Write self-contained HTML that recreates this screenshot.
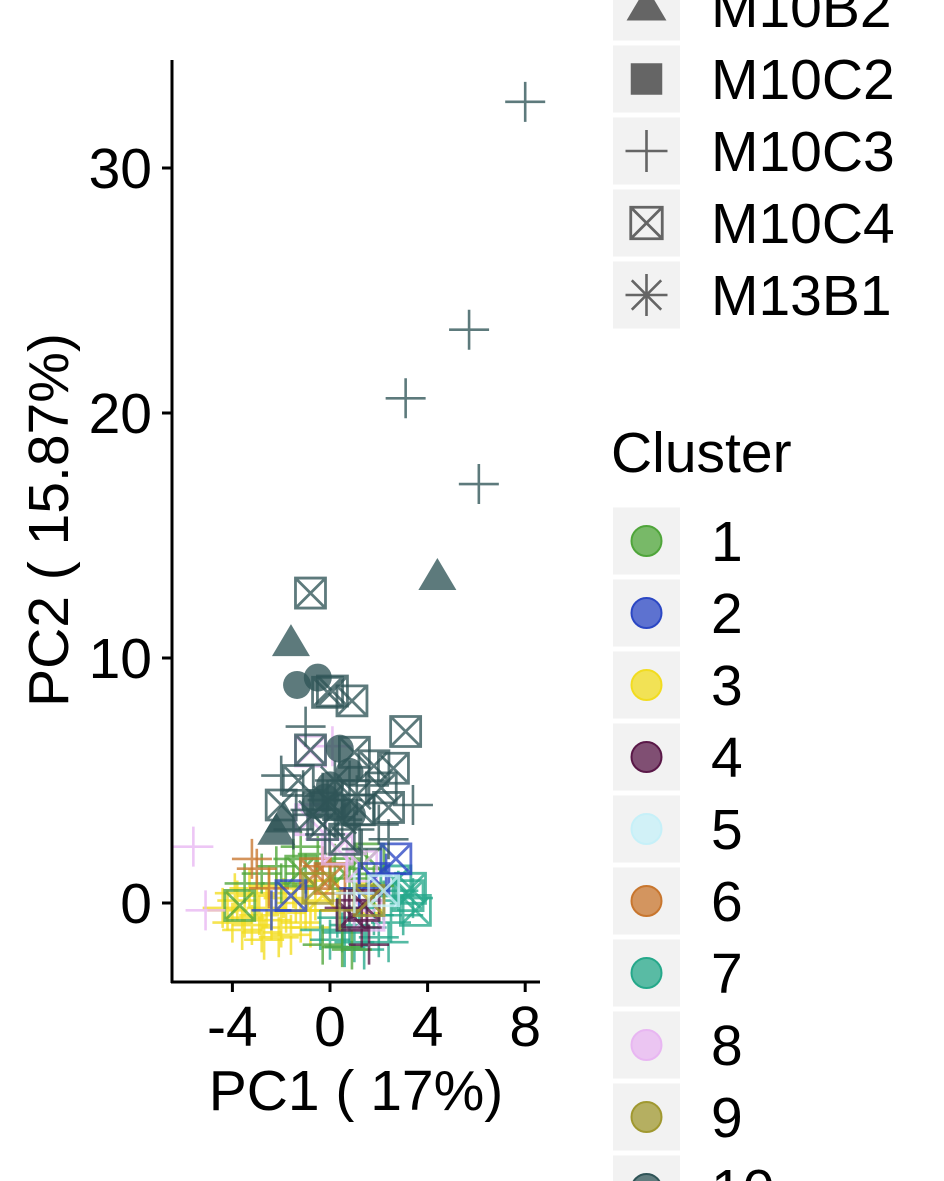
<!DOCTYPE html>
<html><head><meta charset="utf-8"><style>
html,body{margin:0;padding:0;background:#fff}
svg{display:block;font-family:"Liberation Sans",Arial,sans-serif}
</style></head><body>
<svg id="chart" width="944" height="1181" viewBox="0 0 944 1181" xmlns="http://www.w3.org/2000/svg">
<g id="marks"></g>
<g id="axes"></g>
<g id="legend"></g>
</svg>
<script>
const clusterNames=['1','2','3','4','5','6','7','8','9','10'];
const clusterColors=['#4fa53a','#2b47c4','#f2dc20','#5a1848','#c6f0f8','#c8762e','#25a88a','#e8b6f2','#a09830','#2f5457'];
const shapeNames=['M10B2','M10C2','M10C3','M10C4','M13B1'];
const shapeKeys=['triangle','square','plus','boxx','star'];
const xTicks=[-4,0,4,8];
const yTicks=[0,10,20,30];
const ptX=[-4.2,-3.8,-3.5,-3.2,-3.0,-2.8,-2.6,-2.4,-2.2,-2.0,-1.8,-1.6,-1.4,-1.2,-3.6,-4.0,-3.3,-2.9,-2.5,-1.9,-1.0,-0.8,-2.7,-2.1,-3.9,-4.4,-1.5,-0.6,1.6,-0.3,
0,0.5,1.0,1.5,2.0,2.5,3.0,3.4,0.3,0.8,1.2,1.8,2.2,2.8,-0.4,0.6,1.4,2.4,3.2,3.5,2.7,3.3,
-2.8,-2.2,-1.5,-1.0,-0.5,0.2,0.8,1.5,-3.5,-2.0,0.5,0.9,-0.3,1.8,-1.2,-3.7,-1.2,0.6,1.6,
-3.0,-2.5,-0.3,-0.6,0.0,-3.2,
-5.6,-5.1,-0.8,-0.8,0.3,1.3,1.6,-0.2,0.7,0.1,
2.7,1.8,-1.6,2.3,-2.4,1.2,
0.9,1.3,1.6,0.6,1.4,
1.6,-0.5,0.4,
2.2,1.0,
8.0,5.7,3.1,6.1,-1.0,-2.0,3.4,-0.3,0.2,1.0,-0.8,1.6,-1.5,0.5,-0.2,1.3,2.0,-1.1,0.8,2.4,
4.4,-1.6,-1.9,-2.2,
-1.35,-0.5,0.4,0.8,-0.2,0.3,-0.6,0.9,0.0,
-0.8,-0.1,0.1,0.9,3.1,-0.8,1.0,2.6,1.8,-1.3,-2.0,2.1,1.2,-0.3,2.4,0.6,
-0.1,0.5,-0.7,1.1,0.2];
const ptY=[-0.3,0.1,-0.6,-0.9,0.3,-1.2,-0.2,-0.7,0.4,-1.0,-0.4,-1.3,0.0,-0.8,-1.1,-0.8,0.6,-0.5,0.7,0.2,-0.3,-1.0,-1.5,-1.4,0.4,-0.2,0.6,0.1,0.2,0.3,
-1.5,-1.2,-1.6,-1.0,-1.4,-0.8,-0.5,0.2,-0.6,-0.9,-0.2,-0.5,0.1,0.5,-1.1,-1.8,-1.9,-1.6,0.3,-0.3,0.9,0.6,
1.2,1.5,1.8,1.2,2.0,1.6,1.0,1.4,0.8,0.8,-1.8,-1.9,-1.7,0.7,2.3,-0.1,1.3,1.2,1.8,
1.4,0.6,1.5,1.2,1.0,1.8,
2.3,-0.3,6.2,3.4,2.2,1.5,-0.5,2.6,2.0,6.4,
1.8,1.0,0.3,1.2,-0.3,0.6,
-0.5,-1.0,-1.7,-0.2,-0.1,
0.1,0.6,-0.3,
0.5,0.4,
32.7,23.4,20.6,17.1,7.2,5.2,4.0,4.5,3.5,3.0,3.8,4.8,3.0,4.2,2.8,2.2,3.2,4.6,5.0,2.6,
13.3,10.6,3.4,2.9,
8.9,9.2,6.3,5.35,4.3,3.9,4.0,3.6,4.8,
12.65,8.6,8.65,8.25,7.0,6.25,6.15,5.5,5.6,5.0,4.0,4.7,3.8,3.2,3.9,2.6,
4.2,3.4,3.6,4.4,5.0];
const ptCluster=[2,2,2,2,2,2,2,2,2,2,2,2,2,2,2,2,2,2,2,2,2,2,2,2,2,2,2,2,2,2,
6,6,6,6,6,6,6,6,6,6,6,6,6,6,6,6,6,6,6,6,6,6,
0,0,0,0,0,0,0,0,0,0,0,0,0,0,0,0,0,0,0,
5,5,5,5,5,5,
7,7,7,7,7,7,7,7,7,7,
1,1,1,1,1,1,
3,3,3,3,3,
8,8,8,
4,4,
9,9,9,9,9,9,9,9,9,9,9,9,9,9,9,9,9,9,9,9,
9,9,9,9,
9,9,9,9,9,9,9,9,9,
9,9,9,9,9,9,9,9,9,9,9,9,9,9,9,9,
9,9,9,9,9];
const ptShape=['plus','plus','plus','plus','plus','plus','plus','plus','plus','plus','plus','plus','plus','plus','plus','plus','plus','plus','plus','plus','plus','plus','plus','plus','plus','plus','plus','plus','boxx','boxx',
'plus','plus','plus','plus','plus','plus','plus','plus','plus','plus','plus','plus','plus','plus','plus','plus','plus','plus','boxx','boxx','boxx','boxx',
'plus','plus','plus','plus','plus','plus','plus','plus','plus','plus','plus','plus','plus','plus','plus','boxx','boxx','boxx','boxx',
'plus','plus','plus','boxx','boxx','plus',
'plus','plus','boxx','boxx','boxx','boxx','boxx','plus','plus','plus',
'boxx','boxx','boxx','plus','plus','plus',
'boxx','plus','plus','plus','boxx',
'boxx','boxx','plus',
'boxx','plus',
'plus','plus','plus','plus','plus','plus','plus','plus','plus','plus','plus','plus','plus','plus','plus','plus','plus','plus','plus','plus',
'triangle','triangle','triangle','triangle',
'circle','circle','circle','circle','circle','circle','circle','circle','circle',
'boxx','boxx','boxx','boxx','boxx','boxx','boxx','boxx','boxx','boxx','boxx','boxx','boxx','boxx','boxx','boxx',
'star','star','star','star','star'];

const NS='http://www.w3.org/2000/svg';
const FS=57;
function sx(v){return 330+24.4*v;}
function sy(v){return 903-24.5*v;}
function mk(tag,attrs,parent){const e=document.createElementNS(NS,tag);for(const k in attrs)e.setAttribute(k,attrs[k]);parent.appendChild(e);return e;}
function drawShape(g,shape,cx,cy,col,scale,op){
  const s=scale;
  if(shape==='circle'){mk('circle',{cx:cx,cy:cy,r:14*s,fill:col,'fill-opacity':op},g);}
  else if(shape==='triangle'){const h=32*s,w=38*s;mk('polygon',{points:`${cx},${cy-h*0.6} ${cx-w/2},${cy+h*0.4} ${cx+w/2},${cy+h*0.4}`,fill:col,'fill-opacity':op},g);}
  else if(shape==='square'){mk('rect',{x:cx-15*s,y:cy-15*s,width:30*s,height:30*s,fill:col,'fill-opacity':op},g);}
  else if(shape==='plus'){const a=20*s;mk('path',{d:`M${cx-a},${cy}H${cx+a}M${cx},${cy-a}V${cy+a}`,stroke:col,'stroke-opacity':op,'stroke-width':2.6,fill:'none'},g);}
  else if(shape==='boxx'){const a=15*s;mk('path',{d:`M${cx-a},${cy-a}H${cx+a}V${cy+a}H${cx-a}ZM${cx-a},${cy-a}L${cx+a},${cy+a}M${cx+a},${cy-a}L${cx-a},${cy+a}`,stroke:col,'stroke-opacity':op,'stroke-width':2.8,fill:'none'},g);}
  else if(shape==='star'){const a=20*s,d=14*s;mk('path',{d:`M${cx-a},${cy}H${cx+a}M${cx},${cy-a}V${cy+a}M${cx-d},${cy-d}L${cx+d},${cy+d}M${cx+d},${cy-d}L${cx-d},${cy+d}`,stroke:col,'stroke-opacity':op,'stroke-width':2.6,fill:'none'},g);}
}
const marks=document.getElementById('marks');
for(let i=0;i<ptX.length;i++){
  const g=document.createElementNS(NS,'g');
  
  
  marks.appendChild(g);
  drawShape(g,ptShape[i],sx(ptX[i]),sy(ptY[i]),clusterColors[ptCluster[i]],1,0.78);
}
const axes=document.getElementById('axes');
const yl=mk('line',{x1:172,y1:60,x2:172,y2:983,stroke:'#000','stroke-width':3},axes);


const xl=mk('line',{x1:171,y1:982,x2:540,y2:982,stroke:'#000','stroke-width':3},axes);


yTicks.forEach(t=>{
  mk('line',{x1:162,y1:sy(t),x2:172,y2:sy(t),stroke:'#000','stroke-width':3},axes);
  const tx=mk('text',{x:152,y:sy(t)+20,'font-size':FS,'text-anchor':'end',fill:'#000'},axes);
  tx.textContent=t;
  
  
});
xTicks.forEach(t=>{
  mk('line',{x1:sx(t),y1:982,x2:sx(t),y2:992,stroke:'#000','stroke-width':3},axes);
  const tx=mk('text',{x:sx(t),y:1046,'font-size':FS,'text-anchor':'middle',fill:'#000'},axes);
  tx.textContent=t;
  
  
});
const xt=mk('text',{x:356,y:1110,'font-size':FS,'text-anchor':'middle',fill:'#000'},axes);
xt.textContent='PC1 ( 17%)';


const yt=mk('text',{x:0,y:0,'font-size':FS,'text-anchor':'middle',fill:'#000',transform:'translate(68,520) rotate(-90)'},axes);
yt.textContent='PC2 ( 15.87%)';



const legend=document.getElementById('legend');
const shapeRowY=[7,79,151,223,295];
shapeNames.forEach((n,i)=>{
  const g=document.createElementNS(NS,'g');
  
  
  legend.appendChild(g);
  const cy=shapeRowY[i];
  mk('rect',{x:613,y:cy-33.5,width:67,height:67,fill:'#f2f2f2'},g);
  drawShape(g,shapeKeys[i],646.5,cy,'#555',1.05,0.9);
  const t=mk('text',{x:711,y:cy+20,'font-size':FS,fill:'#000'},g);t.textContent=n;
});
const ct=mk('text',{x:611,y:472,'font-size':FS,fill:'#000'},legend);
ct.textContent='Cluster';


clusterNames.forEach((n,i)=>{
  const g=document.createElementNS(NS,'g');
  
  
  legend.appendChild(g);
  const cy=541+72*i;
  mk('rect',{x:613,y:cy-33.5,width:67,height:67,fill:'#f2f2f2'},g);
  mk('circle',{cx:646.5,cy:cy,r:15,fill:clusterColors[i],'fill-opacity':0.75,stroke:clusterColors[i],'stroke-width':2},g);
  const t=mk('text',{x:711,y:cy+20,'font-size':FS,fill:'#000'},g);t.textContent=n;
});
</script>
</body></html>
